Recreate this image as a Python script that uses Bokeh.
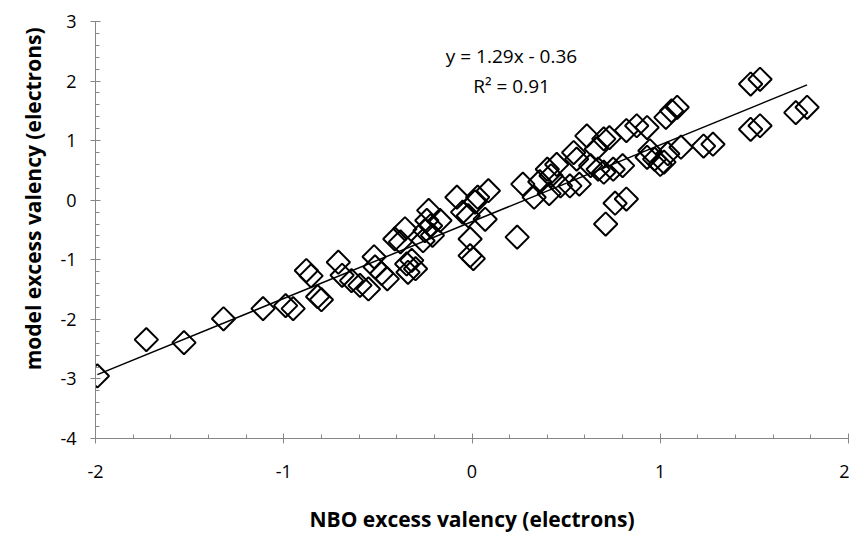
import numpy as np
from bokeh.plotting import figure
from bokeh.models import Range1d, Label, Title, SingleIntervalTicker, ColumnDataSource
from bokeh.embed import file_html
from bokeh.resources import INLINE

# NBO excess valency (x) vs model excess valency (y)
nbo = [-1.99, -1.73, -1.53, -1.32, -1.11, -0.99, -0.95, -0.88, -0.855, -0.82,
       -0.80, -0.71, -0.69, -0.64, -0.595, -0.55, -0.52, -0.515, -0.48, -0.45,
       -0.41, -0.38, -0.356, -0.347, -0.32, -0.30, -0.34, -0.26, -0.24, -0.23,
       -0.22, -0.25, -0.17, -0.21, -0.08, -0.05, 0.016, 0.03, 0.087, -0.02,
       0.07, -0.01, -0.01, 0.007, 0.24, 0.27, 0.33, 0.36, 0.41, 0.45,
       0.42, 0.40, 0.47, 0.52, 0.54, 0.556, 0.61, 0.57, 0.63, 0.66,
       0.70, 0.73, 0.67, 0.70, 0.75, 0.80, 0.82, 0.875, 0.93, 0.945,
       0.93, 0.97, 1.00, 1.02, 1.04, 1.03, 1.06, 1.09, 0.76, 0.82,
       0.71, 1.11, 1.23, 1.28, 1.48, 1.53, 1.48, 1.53, 1.72, 1.78]
model = [-2.95, -2.34, -2.39, -1.99, -1.82, -1.77, -1.82, -1.18, -1.27, -1.62,
         -1.67, -1.04, -1.26, -1.35, -1.43, -1.49, -0.95, -1.12, -1.23, -1.32,
         -0.65, -0.70, -0.48, -1.07, -1.01, -1.15, -1.21, -0.68, -0.34, -0.17,
         -0.43, -0.51, -0.34, -0.59, 0.05, -0.20, -0.03, 0.05, 0.16, -0.26,
         -0.32, -0.65, -0.93, -0.98, -0.62, 0.27, 0.05, 0.31, 0.11, 0.60,
         0.41, 0.52, 0.24, 0.24, 0.80, 0.69, 1.08, 0.27, 0.58, 0.86,
         1.03, 1.05, 0.52, 0.47, 0.52, 0.58, 1.17, 1.25, 1.22, 0.83,
         0.72, 0.69, 0.60, 0.64, 0.78, 1.39, 1.50, 1.56, -0.05, 0.02,
         -0.40, 0.89, 0.91, 0.94, 1.95, 2.03, 1.19, 1.25, 1.47, 1.56]

slope = 1.29
intercept = -0.36
r2 = 0.91

x_ticks = [-2, -1, 0, 1, 2]
y_ticks = [-4, -3, -2, -1, 0, 1, 2, 3]

FONT = "Open Sans"
AXIS_COLOR = "#868686"

p = figure(width=849, height=535, output_backend="svg", toolbar_location=None,
           x_range=Range1d(-2, 2), y_range=Range1d(-4, 3),
           min_border_left=95, min_border_top=21, min_border_right=1,
           min_border_bottom=96)
p.outline_line_color = None
p.xgrid.visible = False
p.ygrid.visible = False
p.background_fill_color = "white"
p.border_fill_color = "white"

# trend line
xl = np.array([min(nbo), max(nbo)])
p.line(xl, slope * xl + intercept, line_color="black", line_width=1.5)

src = ColumnDataSource(dict(x=nbo, y=model))
p.scatter("x", "y", source=src, marker="square", angle=np.pi / 4, size=16.5,
          fill_color=None, line_color="black", line_width=2)

for ax, ticks in ((p.xaxis[0], x_ticks), (p.yaxis[0], y_ticks)):
    ax.ticker = SingleIntervalTicker(interval=1, num_minor_ticks=5)
    ax.major_label_overrides = {t: str(t) for t in ticks}
    ax.axis_line_color = AXIS_COLOR
    ax.major_tick_line_color = AXIS_COLOR
    ax.minor_tick_line_color = AXIS_COLOR
    ax.major_tick_in = 5
    ax.major_tick_out = 5
    ax.minor_tick_in = 4
    ax.minor_tick_out = 0
    ax.major_label_text_font = FONT
    ax.major_label_text_font_size = "18px"
    ax.major_label_text_color = "black"
    ax.axis_label_text_font = FONT
    ax.axis_label_text_font_size = "21px"
    ax.axis_label_text_font_style = "bold"
    ax.axis_label_text_color = "black"

p.xaxis.axis_label = "NBO excess valency (electrons)"
p.xaxis.major_label_standoff = 21
p.yaxis.major_label_standoff = 14
p.xaxis.axis_label_standoff = 24

# y-axis title placed like the original (a bit above the plot-area centre)
p.add_layout(Title(text="model excess valency (electrons)", align="right",
                   offset=6, standoff=22, vertical_align="bottom",
                   text_font=FONT, text_font_size="21px",
                   text_font_style="bold", text_color="black"), "left")

p.add_layout(Label(x=0.21, y=2.42, text="y = %.2fx - %.2f" % (slope, -intercept),
                   text_align="center", text_baseline="middle",
                   text_font=FONT, text_font_size="19px", text_color="black"))
p.add_layout(Label(x=0.21, y=1.92, text="R² = %.2f" % r2,
                   text_align="center", text_baseline="middle",
                   text_font=FONT, text_font_size="19px", text_color="black"))

open("out.html", "w").write(file_html(p, INLINE))
